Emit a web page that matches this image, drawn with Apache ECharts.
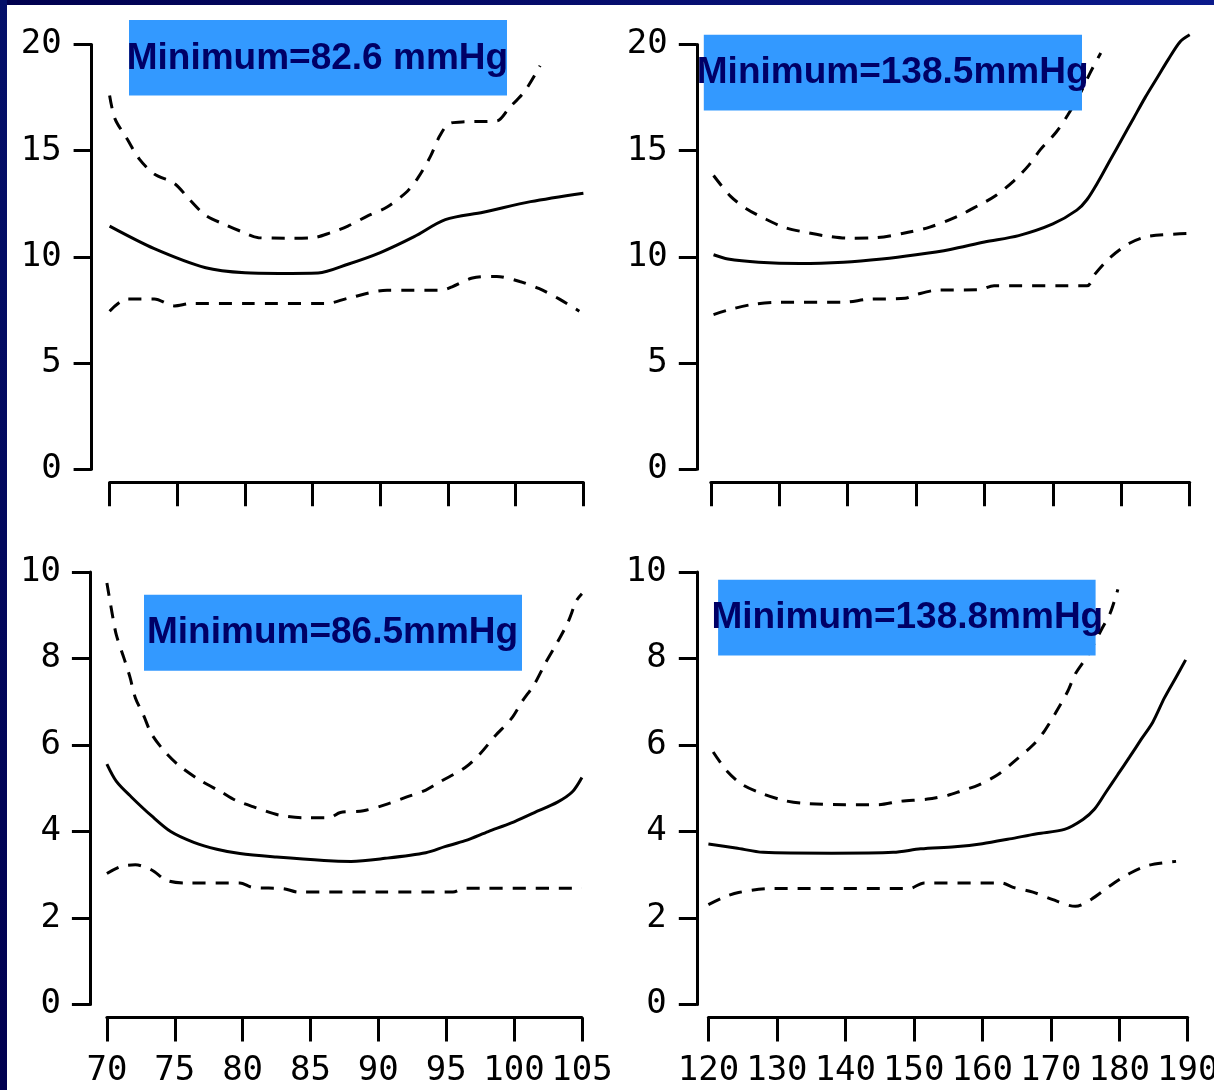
<!DOCTYPE html>
<html>
<head>
<meta charset="utf-8">
<style>
html,body{margin:0;padding:0;background:#fff;}
#main{width:1214px;height:1090px;}
</style>
<script src="https://cdn.jsdelivr.net/npm/echarts@6/dist/echarts.min.js"></script>
</head>
<body>
<div id="main"></div>
<script>
// ---- Data ----
var xTicksLeft = [70, 75, 80, 85, 90, 95, 100, 105];
var xTicksRight = [120, 130, 140, 150, 160, 170, 180, 190];
var yTicksTop = [0, 5, 10, 15, 20];
var yTicksBottom = [0, 2, 4, 6, 8, 10];
var panelTitles = ["Minimum=82.6 mmHg", "Minimum=138.5mmHg", "Minimum=86.5mmHg", "Minimum=138.8mmHg"];

// Panel 1 (top-left)
var p1Mid = [[70,11.45],[73.3,10.39],[77.1,9.49],[80,9.25],[82.5,9.22],[85.4,9.24],[87.6,9.65],[90,10.2],[92.5,10.95],[94.8,11.75],[97.6,12.1],[101.1,12.6],[105,13.0]];
var p1Up = [[70,17.6],[70.4,16.5],[71.3,15.55],[72.2,14.6],[73.3,13.9],[74.8,13.45],[75.9,12.7],[77.1,11.95],[78.6,11.5],[79.7,11.2],[81,10.9],[83,10.88],[85,10.9],[86.3,11.13],[87.6,11.45],[89.1,11.94],[90.5,12.35],[92,13.09],[92.8,13.74],[93.7,14.73],[94.4,15.71],[95.1,16.28],[96.3,16.36],[98.6,16.4],[99.5,17.0],[100.7,17.83],[101.8,19.0]];
var p1Lo = [[70,7.44],[71.3,8.02],[73.3,8.02],[74.8,7.69],[76,7.8],[80,7.8],[86,7.8],[87.6,8.05],[90.5,8.43],[94.5,8.43],[95.3,8.59],[96.8,9.0],[98.6,9.08],[100.3,8.84],[101.7,8.51],[103.2,8.02],[104.7,7.44]];

// Panel 2 (top-right)
var p2Mid = [[120.4,10.1],[122.5,9.9],[127,9.75],[133,9.69],[139.4,9.75],[145,9.9],[150,10.1],[155,10.35],[160,10.7],[165,11.0],[170,11.55],[173.5,12.2],[175,12.7],[176.7,13.58],[178.4,14.57],[180.1,15.55],[181.8,16.53],[183.5,17.51],[185.2,18.41],[186.9,19.31],[188.6,20.13],[190,20.46]];
var p2Up = [[120.4,13.83],[122.9,12.85],[125.2,12.27],[128,11.78],[130.9,11.37],[134.3,11.13],[137.1,10.97],[140,10.88],[144,10.9],[148,11.1],[152,11.4],[156,11.9],[159,12.4],[161.5,12.85],[164.3,13.58],[166.5,14.32],[168.2,15.06],[170.5,15.88],[172.2,16.69],[174,17.7],[175.5,18.7],[177,19.6]];
var p2Lo = [[120.4,7.28],[122.9,7.53],[126.3,7.77],[130,7.86],[139.4,7.86],[143,8.0],[148.4,8.05],[150,8.22],[153,8.43],[159.2,8.45],[161.4,8.64],[175,8.64],[176.1,9.17],[178.4,9.98],[181.2,10.64],[184,10.97],[190,11.1]];

// Panel 3 (bottom-left)
var p3Mid = [[70,5.56],[70.7,5.16],[71.8,4.8],[73.3,4.36],[74.7,4.0],[76.4,3.75],[78.1,3.59],[79.8,3.49],[82.5,3.41],[86,3.33],[88,3.31],[90.5,3.38],[93.5,3.51],[94.9,3.65],[96.4,3.79],[98.1,4.0],[99.8,4.2],[101.5,4.44],[103.2,4.68],[104.3,4.92],[105,5.25]];
var p3Up = [[70,9.75],[70.4,9.02],[70.7,8.54],[71.3,7.97],[71.7,7.57],[72.1,7.09],[72.7,6.69],[73.3,6.25],[74.4,5.8],[75.5,5.48],[77,5.16],[78.4,4.92],[79.5,4.72],[80.9,4.56],[82.7,4.38],[84.5,4.32],[86.4,4.32],[87.2,4.44],[88.9,4.48],[90.7,4.64],[92.1,4.8],[93.5,4.96],[94.6,5.16],[96.4,5.48],[97.5,5.8],[98.6,6.21],[99.8,6.61],[100.6,7.01],[101.5,7.41],[102.3,7.89],[103.2,8.38],[104,8.86],[104.6,9.34],[105,9.5]];
var p3Lo = [[70,3.03],[71,3.19],[72.1,3.23],[73.3,3.11],[74.4,2.87],[75.8,2.81],[79.8,2.81],[80.7,2.71],[83,2.68],[84.1,2.6],[90,2.6],[95.5,2.6],[96.4,2.69],[105,2.69]];

// Panel 4 (bottom-right)
var p4Mid = [[120,3.71],[124,3.62],[128,3.52],[138,3.5],[147,3.52],[151,3.6],[156,3.65],[160,3.72],[164,3.83],[168,3.95],[172,4.05],[174.7,4.28],[176.4,4.52],[178.1,4.92],[179.8,5.32],[181.5,5.72],[183.2,6.13],[184.9,6.53],[186.6,7.09],[188.3,7.57],[189.7,7.97]];
var p4Up = [[120.7,5.84],[122.7,5.4],[125,5.08],[127.8,4.88],[131,4.72],[134,4.65],[140,4.62],[144.8,4.62],[148,4.7],[152,4.75],[155,4.84],[156.6,4.92],[159.5,5.08],[162.3,5.32],[164.5,5.6],[167.4,6.0],[169.1,6.33],[170.8,6.77],[172.5,7.25],[173.6,7.65],[175.3,8.05],[177.5,8.7],[178.7,9.06],[179.8,9.6]];
var p4Lo = [[120,2.31],[122.1,2.47],[124.4,2.59],[129,2.68],[149.3,2.68],[151.5,2.81],[162.8,2.81],[164.5,2.71],[167.4,2.6],[170.2,2.43],[173.6,2.27],[175.9,2.43],[178.7,2.75],[181.5,3.03],[184.3,3.22],[188.3,3.31]];

// ---- Layout ----
var grids = [
  {left:109.6, top:44.5, width:473.8, height:424.7},
  {left:710.8, top:44.5, width:478.9, height:424.7},
  {left:106.9, top:572.1, width:475, height:432.4},
  {left:708.4, top:572.1, width:479.3, height:432.4}
];
var yOffsets = [18, 14, 17, 11.6];
var yMargins = [30, 29, 29, 30];
var boxes = [
  {x:129, y:20, w:378, h:75.6, tx:126.7, ty:59},
  {x:703.8, y:34.8, w:378.2, h:75.7, tx:696.8, ty:72.5},
  {x:144, y:594.7, w:378, h:76, tx:147, ty:633},
  {x:718.1, y:579.8, w:377.5, h:75.7, tx:711.5, ty:617.5}
];

var tickFont = '"DejaVu Sans Mono", monospace';
var black = '#000';

function xAxis(i) {
  var left = (i % 2 === 0);
  var ticks = left ? xTicksLeft : xTicksRight;
  return {
    type:'value', gridIndex:i, position:'bottom', offset:13,
    min:ticks[0], max:ticks[ticks.length-1], interval:ticks[1]-ticks[0],
    axisLine:{show:true, onZero:false, lineStyle:{color:black, width:3}},
    axisTick:{show:true, length:24, lineStyle:{color:black, width:3}},
    axisLabel:{show: i >= 2, margin:37, fontSize:34, fontFamily:tickFont, color:black,
               showMinLabel:true, showMaxLabel:true, hideOverlap:false},
    splitLine:{show:false}
  };
}
function yAxis(i) {
  var ticks = i < 2 ? yTicksTop : yTicksBottom;
  return {
    type:'value', gridIndex:i, position:'left', offset:yOffsets[i],
    min:ticks[0], max:ticks[ticks.length-1], interval:ticks[1]-ticks[0],
    axisLine:{show:true, onZero:false, lineStyle:{color:black, width:3}},
    axisTick:{show:true, length:18, lineStyle:{color:black, width:3}},
    axisLabel:{show:true, margin:yMargins[i], fontSize:34, fontFamily:tickFont, color:black},
    splitLine:{show:false}
  };
}
function line(i, data, dashed) {
  return {
    type:'line', xAxisIndex:i, yAxisIndex:i, data:data,
    showSymbol:false, symbol:'none', clip:false, smooth:0.3,
    lineStyle:{color:black, width:3, type: dashed ? [13,10] : 'solid'},
    silent:true, animation:false
  };
}

var panels = [[p1Mid,p1Up,p1Lo],[p2Mid,p2Up,p2Lo],[p3Mid,p3Up,p3Lo],[p4Mid,p4Up,p4Lo]];
var series = [];
panels.forEach(function(p, i){
  series.push(line(i, p[0], false));
  series.push(line(i, p[1], true));
  series.push(line(i, p[2], true));
});

var graphics = [
  {type:'rect', z:-10, silent:true, shape:{x:0,y:0,width:1214,height:5},
   style:{fill:new echarts.graphic.LinearGradient(0,0,1,0,[{offset:0,color:'#00004e'},{offset:1,color:'#0b1a8c'}])}},
  {type:'rect', z:-10, silent:true, shape:{x:0,y:0,width:7,height:1090},
   style:{fill:new echarts.graphic.LinearGradient(0,0,0,1,[{offset:0,color:'#04106a'},{offset:1,color:'#000050'}])}}
];
boxes.forEach(function(b, i){
  graphics.push({type:'rect', z:100, silent:true, shape:{x:b.x, y:b.y, width:b.w, height:b.h}, style:{fill:'#3399ff'}});
  graphics.push({type:'text', z:101, silent:true, x:b.tx, y:b.ty,
    style:{text:panelTitles[i], fill:'#000066', font:'bold 37px "Liberation Sans", Arial, sans-serif',
           textAlign:'left', textVerticalAlign:'middle'}});
});

var chart = echarts.init(document.getElementById('main'), null, {renderer:'canvas'});
chart.setOption({
  backgroundColor:'#fff',
  animation:false,
  grid: grids.map(function(g){ return Object.assign({containLabel:false, outerBoundsMode:'none'}, g); }),
  xAxis: [0,1,2,3].map(xAxis),
  yAxis: [0,1,2,3].map(yAxis),
  series: series,
  graphic: graphics
});
</script>
</body>
</html>
